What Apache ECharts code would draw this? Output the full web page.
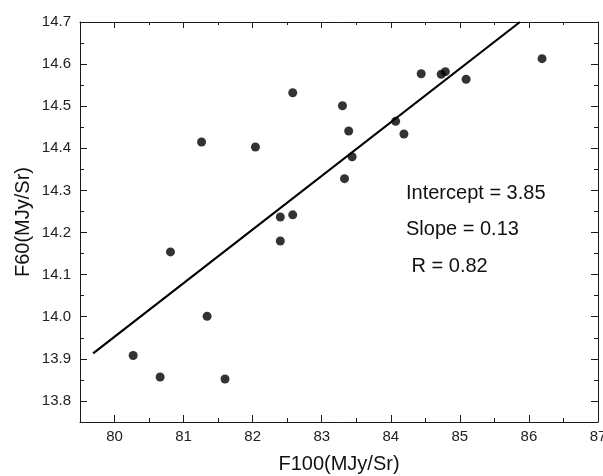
<!DOCTYPE html>
<html>
<head>
<meta charset="utf-8">
<script src="https://cdn.jsdelivr.net/npm/echarts@6/dist/echarts.min.js"></script>
<style>
html,body{margin:0;padding:0;background:#fff;}
#chart{width:603px;height:476px;}
</style>
</head>
<body>
<div id="chart"></div>
<script>
var xValues = [81.26, 82.04, 82.58, 82.40, 82.58, 82.40, 86.19, 84.44, 84.73, 84.79, 85.09, 83.30, 83.39, 84.07, 84.19, 83.44, 83.33, 80.81, 81.34, 80.27, 80.66, 81.60];
var yValues = [14.415, 14.403, 14.532, 14.237, 14.242, 14.180, 14.613, 14.577, 14.576, 14.582, 14.564, 14.501, 14.441, 14.464, 14.434, 14.380, 14.328, 14.154, 14.001, 13.908, 13.857, 13.852];
var fitX = [79.69, 85.87];
var fitY = [13.913, 14.70];
var xRange = [79.5, 87];     // full x extent of the frame
var yRange = [13.75, 14.7];  // full y extent of the frame
var xTickRange = [80, 87];   // labelled major ticks (step 1)
var yTickRange = [13.8, 14.7]; // labelled major ticks (step 0.1)
var statLines = ['Intercept = 3.85', 'Slope = 0.13', ' R = 0.82'];

var points = xValues.map(function (x, i) { return [x, yValues[i]]; });
var fitLine = fitX.map(function (x, i) { return [x, fitY[i]]; });

var W = 603, H = 476;
var G = {left: 80, top: 22, right: 5, bottom: 54};
var gw = W - G.left - G.right, gh = H - G.top - G.bottom;
var xOff = (xTickRange[0] - xRange[0]) / (xRange[1] - xRange[0]) * gw;
var yOff = (yTickRange[0] - yRange[0]) / (yRange[1] - yRange[0]) * gh;

var axisColor = '#1a1a1a';
var font = 'Liberation Sans, Arial, sans-serif';
var tickStyle = {color: axisColor, width: 1};

var chart = echarts.init(document.getElementById('chart'), null, {renderer: 'canvas'});
chart.setOption({
  animation: false,
  backgroundColor: '#fff',
  grid: [
    {left: G.left, top: G.top, right: G.right, bottom: G.bottom, containLabel: false, outerBoundsMode: 'none'},
    {left: G.left + xOff, top: G.top, right: G.right, bottom: G.bottom, containLabel: false, outerBoundsMode: 'none'},
    {left: G.left, top: G.top, right: G.right, bottom: G.bottom + yOff, containLabel: false, outerBoundsMode: 'none'}
  ],
  xAxis: [
    {gridIndex: 0, type: 'value', position: 'bottom', min: xRange[0], max: xRange[1], interval: 0.5,
     splitLine: {show: false}, axisLine: {onZero: false, lineStyle: tickStyle},
     axisTick: {inside: true, length: 4, lineStyle: tickStyle}, axisLabel: {show: false},
     name: 'F100(MJy/Sr)', nameLocation: 'middle', nameGap: 32,
     nameTextStyle: {color: '#111', fontSize: 20, fontFamily: font}},
    {gridIndex: 0, type: 'value', position: 'top', min: xRange[0], max: xRange[1], interval: 0.5,
     splitLine: {show: false}, axisLine: {onZero: false, lineStyle: tickStyle},
     axisTick: {inside: true, length: 3, lineStyle: tickStyle}, axisLabel: {show: false}},
    {gridIndex: 1, type: 'value', position: 'bottom', min: xTickRange[0], max: xTickRange[1], interval: 1,
     splitLine: {show: false}, axisLine: {show: false, onZero: false},
     axisTick: {inside: true, length: 7, lineStyle: tickStyle},
     axisLabel: {color: '#222', fontSize: 15, fontFamily: font, margin: 7}},
    {gridIndex: 1, type: 'value', position: 'top', min: xTickRange[0], max: xTickRange[1], interval: 1,
     splitLine: {show: false}, axisLine: {show: false, onZero: false},
     axisTick: {inside: true, length: 6, lineStyle: tickStyle}, axisLabel: {show: false}},
    {gridIndex: 2, type: 'value', show: false, min: xRange[0], max: xRange[1]}
  ],
  yAxis: [
    {gridIndex: 0, type: 'value', position: 'left', min: yRange[0], max: yRange[1], interval: 0.05,
     splitLine: {show: false}, axisLine: {onZero: false, lineStyle: tickStyle},
     axisTick: {inside: true, length: 4, lineStyle: tickStyle}, axisLabel: {show: false},
     name: 'F60(MJy/Sr)', nameLocation: 'middle', nameGap: 47, nameRotate: 90,
     nameTextStyle: {color: '#111', fontSize: 20, fontFamily: font}},
    {gridIndex: 0, type: 'value', position: 'right', min: yRange[0], max: yRange[1], interval: 0.05,
     splitLine: {show: false}, axisLine: {onZero: false, lineStyle: tickStyle},
     axisTick: {inside: true, length: 4, lineStyle: tickStyle}, axisLabel: {show: false}},
    {gridIndex: 1, type: 'value', show: false, min: yRange[0], max: yRange[1]},
    {gridIndex: 2, type: 'value', position: 'left', min: yTickRange[0], max: yTickRange[1], interval: 0.1,
     splitLine: {show: false}, axisLine: {show: false, onZero: false},
     axisTick: {inside: true, length: 7, lineStyle: tickStyle},
     axisLabel: {color: '#222', fontSize: 15, fontFamily: font, margin: 9,
                 formatter: function (v) { return v.toFixed(1); }}},
    {gridIndex: 2, type: 'value', position: 'right', min: yTickRange[0], max: yTickRange[1], interval: 0.1,
     splitLine: {show: false}, axisLine: {show: false, onZero: false},
     axisTick: {inside: true, length: 7, lineStyle: tickStyle}, axisLabel: {show: false}}
  ],
  graphic: statLines.map(function (t, i) {
    return {
      type: 'text', left: 406, top: 183 + i * 36.5,
      style: {text: t, fill: '#111', fontSize: 20, fontFamily: font}
    };
  }),
  series: [
    {
      type: 'line', data: fitLine, xAxisIndex: 0, yAxisIndex: 0,
      showSymbol: false, symbol: 'none', clip: true,
      lineStyle: {color: '#000', width: 2.2}, silent: true
    },
    {
      type: 'scatter', data: points, xAxisIndex: 0, yAxisIndex: 0,
      symbol: 'circle', symbolSize: 9,
      itemStyle: {color: '#000'}
    }
  ]
});
</script>
</body>
</html>
